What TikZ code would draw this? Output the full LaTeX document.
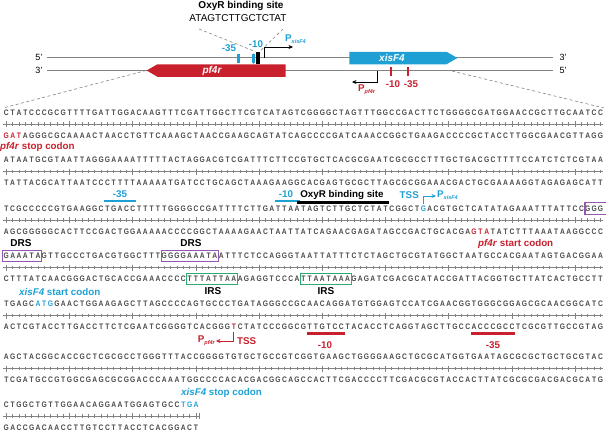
\documentclass[tikz,border=0pt]{standalone}
\usepackage{fontspec}
\setmainfont{Liberation Sans}
\newfontfamily\seqfont[FakeStretch=0.84]{Liberation Sans}
\usetikzlibrary{arrows.meta,shapes.symbols}
\definecolor{cblue}{RGB}{30,160,212}
\definecolor{cred}{RGB}{200,32,45}
\definecolor{cpurple}{RGB}{150,85,175}
\definecolor{cgreen}{RGB}{45,170,115}
\definecolor{seqgray}{RGB}{72,72,72}
\definecolor{lgray}{RGB}{130,130,130}
\newlength\seqw \setlength\seqw{6.32pt}
\def\seqstop{SEQSTOP}
\def\R{\color{cred}}
\def\B{\color{cblue}}
\def\seqloop#1{\ifx\seqstop#1\else\makebox[\seqw]{#1}\expandafter\seqloop\fi}
\newcommand\seqline[1]{\seqloop#1\seqstop}
\newcommand\Psub[1]{P\raisebox{-0.45ex}{\fontsize{5.5}{6}\selectfont\itshape #1}}
\newcommand\ruler[2]{%
  \draw[rul] (3,#1) -- ({3+#2*6.32},#1);
  \foreach \k in {1,...,#2}{%
    \pgfmathtruncatemacro\mm{mod(\k-1,10)}%
    \ifnum\mm=0
      \draw[rul] ({3+(\k-0.5)*6.32},{#1-3}) -- ({3+(\k-0.5)*6.32},{#1+3});
    \else
      \draw[rul] ({3+(\k-0.5)*6.32},{#1-1.6}) -- ({3+(\k-0.5)*6.32},{#1+1.6});
    \fi}}
\begin{document}
\begin{tikzpicture}[x=1pt,y=-1pt,
  seq/.style={anchor=west, inner sep=0pt, font=\seqfont\fontsize{8}{8}\selectfont\bfseries, text=seqgray},
  rul/.style={draw=lgray, line width=0.4pt},
  lab/.style={inner sep=0pt, font=\fontsize{9.8}{11}\selectfont\bfseries},
  big/.style={inner sep=0pt, font=\fontsize{10}{12}\selectfont\bfseries},
  strand/.style={draw=lgray, line width=1.2pt},
  dsh/.style={draw=lgray, line width=0.6pt, dash pattern=on 3pt off 2.5pt},
  bar/.style={inner sep=0pt, minimum height=2.6pt, anchor=west},
  smark/.style={inner sep=0pt, minimum width=2.6pt, minimum height=8.5pt},
  tip/.style={-{Stealth[length=4.5pt,width=4pt]}, line width=0.6pt},
  sbox/.style={inner sep=0pt, minimum height=11.5pt, anchor=west, line width=1.1pt},
  gene/.style={signal, inner sep=0pt, minimum height=12.5pt, signal pointer angle=60}
]
\useasboundingbox (0,0) rectangle (606,434);

% ---------- map ----------
\node[big] (oxyt) at (241,6) {OxyR binding site};
\node[inner sep=0pt, font=\fontsize{10}{12}\selectfont] (oxys) at (238,18.5) {ATAGTCTTGCTCTAT};

\node[inner sep=0pt, font=\fontsize{9}{10}\selectfont] (t5l) at (39,57.5) {5'};
\node[inner sep=0pt, font=\fontsize{9}{10}\selectfont] (t3r) at (563,57.5) {3'};
\node[inner sep=0pt, font=\fontsize{9}{10}\selectfont] (b3l) at (39,70.5) {3'};
\node[inner sep=0pt, font=\fontsize{9}{10}\selectfont] (b5r) at (563,70.5) {5'};
\draw[strand] (t5l.east) ++(4,0) coordinate (ta) -- (553,57.5) coordinate (tb);
\draw[strand] (b3l.east) ++(4,0) coordinate (ba) -- (553,70.5) coordinate (bb);

\node[gene, signal to=east, fill=cblue, minimum width=108pt] (xis) at (398,58) {};
\node[inner sep=0pt, text=white, font=\fontsize{10}{12}\selectfont\bfseries\itshape] (xisl) at (392,58) {xisF4};
\node[gene, signal to=west, fill=cred, minimum width=139pt] (pfr) at (221.5,70.5) {};
\node[inner sep=0pt, text=white, font=\fontsize{10}{12}\selectfont\bfseries\itshape] (pfrl) at (212,70.5) {pf4r};

\node[smark, fill=cblue] (m35) at (238.5,58.5) {};
\node[smark, fill=cblue, rounded corners=1pt, minimum height=10pt] (m10) at (253.5,58.5) {};
\node[inner sep=0pt, fill=black, minimum width=4pt, minimum height=12.5pt] (oxyb) at (257.5,58) {};
\node[lab, text=cblue] (l35) at (229,48) {-35};
\node[lab, text=cblue] (l10) at (256,44) {-10};
\coordinate (dla) at (199,29);
\coordinate (dra) at (283,29);
\draw[dsh] (dla) -- (oxyb.north west);
\draw[dsh] (dra) -- (oxyb.north east);

\coordinate (px0) at (264.5,57.5);
\coordinate (px1) at (293,47);
\draw[tip] (px0) |- (px1);
\node[lab, text=cblue, anchor=west] (pxl) at (285,39) {\Psub{xisF4}};

\node[smark, fill=cred] (r10) at (391,71.5) {};
\node[smark, fill=cred] (r35) at (408,71.5) {};
\node[lab, text=cred] (rl10) at (393,84.5) {-10};
\node[lab, text=cred] (rl35) at (411,84.5) {-35};
\coordinate (pp0) at (377,70.5);
\coordinate (pp1) at (352,82);
\draw[tip] (pp0) |- (pp1);
\node[lab, text=cred, anchor=west] (ppl) at (358,90) {\Psub{pf4r}};

\coordinate (zl) at (3,108);
\coordinate (zr) at (604,108);
\draw[dsh] (pfr.west) -- (zl);
\coordinate (zs) at (452,71);
\draw[dsh] (zs) -- (zr);

% ---------- sequence ----------
% row 1
\node[seq] (s1t) at (3,112.5) {\seqline{CTATCCCGCGTTTTGATTGGACAAGTTTCGATTGGCTTCGTCATAGTCGGGGCTAGTTTGGCCGACTTCTGGGGCGATGGAACCGCTTGCAATCC}};
\ruler{124}{95}
\node[seq] (s1b) at (3,135.5) {\seqline{{\R G}{\R A}{\R T}AGGGCGCAAAACTAACCTGTTCAAAGCTAACCGAAGCAGTATCAGCCCCGATCAAACCGGCTGAAGACCCCGCTACCTTGGCGAACGTTAGG}};
\node[lab, text=cred, anchor=west] (stop1) at (0,147) {\textit{pf4r} stop codon};

% row 2
\node[seq] (s2t) at (3,160) {\seqline{ATAATGCGTAATTAGGGAAAATTTTTACTAGGACGTCGATTTCTTCCGTGCTCACGCGAATCGCGCCTTTGCTGACGCTTTTCCATCTCTCGTAA}};
\ruler{171.5}{95}
\node[seq] (s2b) at (3,183) {\seqline{TATTACGCATTAATCCCTTTTAAAAATGATCCTGCAGCTAAAGAAGGCACGAGTGCGCTTAGCGCGGAAACGACTGCGAAAAGGTAGAGAGCATT}};

% annotations above row 3
\node[lab, text=cblue] (a35) at (120,194.5) {-35};
\node[bar, fill=cblue, minimum width=31.6pt] (b35) at (104.1,200.8) {};
\node[lab, text=cblue] (a10) at (286,194.5) {-10};
\node[bar, fill=cblue, minimum width=25.3pt] (b10) at (274.8,200.8) {};
\node[lab] (aoxy) at (342,194.5) {OxyR binding site};
\node[bar, fill=black, minimum width=92pt] (boxy) at (296.5,202.4) {};
\node[lab, text=cblue, anchor=east] (atss) at (419,195) {TSS};
\coordinate (tg0) at (423.3,203.5);
\coordinate (tg1) at (436,196);
\draw[tip, draw=cblue] (tg0) |- (tg1);
\node[lab, text=cblue, anchor=west] (apx) at (437,195) {\Psub{xisF4}};

% row 3
\node[seq] (s3t) at (3,208.5) {\seqline{TCGCCCCCGTGAAGGCTGACCTTTTTGGGGCCGATTTTCTTGATTAATAGTCTTGCTCTATCGGCT{\B G}ACGTGCTCATATAGAAATTTATTCCGGG}};
\ruler{220}{95}
\node[seq] (s3b) at (3,231.5) {\seqline{AGCGGGGGCACTTCCGACTGGAAAAACCCCGGCTAAAAGAACTAATTATCAGAACGAGATAGCCGACTGCACGA{\R G}{\R T}{\R A}TATCTTTAAATAAGGCCC}};
\node[sbox, draw=cpurple, minimum width=25pt] (drs1a) at (584.4,208.5) {};
\node[lab, text=cred, anchor=west] (start1) at (478,243.5) {\textit{pf4r} start codon};
\node[big] (drsl1) at (21,243.5) {DRS};
\node[big] (drsl2) at (191,243.5) {DRS};

% row 4
\node[seq] (s4t) at (3,256) {\seqline{GAAATAGTTGCCCTGACGTGGCTTTGGGGAAATAATTTCTCCAGGGTAATTATTTCTCTAGCTGCGTATGGCTAATGCCACGAATAGTGACGGAA}};
\node[sbox, draw=cpurple, minimum width=39pt] (drs1b) at (2,256) {};
\node[sbox, draw=cpurple, minimum width=57pt] (drs2) at (161,256) {};
\ruler{267.5}{95}
\node[seq] (s4b) at (3,279) {\seqline{CTTTATCAACGGGACTGCACCGAAACCCCTTTATTAAAGAGGTCCCATTAATAAAGAGATCGACGCATACCGATTACGGTGCTTATCACTGCCTT}};
\node[sbox, draw=cgreen, minimum width=50.6pt] (irs1) at (186.3,279) {};
\node[sbox, draw=cgreen, minimum width=50.6pt] (irs2) at (300,279) {};
\node[big] (irsl1) at (213,291.5) {IRS};
\node[big] (irsl2) at (326,291.5) {IRS};
\node[lab, text=cblue, anchor=west] (start2) at (19,291.5) {\textit{xisF4} start codon};

% row 5
\node[seq] (s5t) at (3,304) {\seqline{TGAGC{\B A}{\B T}{\B G}GAACTGGAAGAGCTTAGCCCCAGTGCCCTGATAGGGCCGCAACAGGATGTGGAGTCCATCGAACGGTGGGCGGAGCGCAACGGCATC}};
\ruler{315.5}{95}
\node[seq] (s5b) at (3,327) {\seqline{ACTCGTACCTTGACCTTCTCGAATCGGGGTCACGGG{\R T}CTATCCCGGCGTTGTCCTACACCTCAGGTAGCTTGCCACCCGCCTCGCGTTGCCGTAG}};
\node[bar, fill=cred, minimum width=37.9pt] (u10) at (306.4,333.5) {};
\node[bar, fill=cred, minimum width=44.2pt] (u35) at (470.7,333.5) {};
\node[lab, text=cred] (ul10) at (325,345.5) {-10};
\node[lab, text=cred] (ul35) at (493,345.5) {-35};
\coordinate (tr0) at (233.4,331.5);
\coordinate (tr1) at (216,341);
\draw[tip, draw=cred] (tr0) |- (tr1);
\node[lab, text=cred, anchor=east] (ppf) at (215,341) {\Psub{pf4r}};
\node[lab, text=cred, anchor=west] (rtss) at (237,341) {TSS};

% row 6
\node[seq] (s6t) at (3,357) {\seqline{AGCTACGGCACCGCTCGCGCCTGGGTTTACCGGGGTGTGCTGCCGTCGGTGAAGCTGGGGAAGCTGCGCATGGTGAATAGCGCGCTGCTGCGTAC}};
\ruler{368.5}{95}
\node[seq] (s6b) at (3,380) {\seqline{TCGATGCCGTGGCGAGCGCGGACCCAAATGGCCCCACACGACGGCAGCCACTTCGACCCCTTCGACGCGTACCACTTATCGCGCGACGACGCATG}};
\node[lab, text=cblue, anchor=west] (stop2) at (181,393) {\textit{xisF4} stop codon};

% row 7
\node[seq] (s7t) at (3,404.5) {\seqline{CTGGCTGTTGGAACAGGAATGGAGTGCC{\B T}{\B G}{\B A}}};
\ruler{416}{31}
\draw[rul] (198.9,413) -- (198.9,419);
\node[seq] (s7b) at (3,427.5) {\seqline{GACCGACAACCTTGTCCTTACCTCACGGACT}};
\end{tikzpicture}
\end{document}
